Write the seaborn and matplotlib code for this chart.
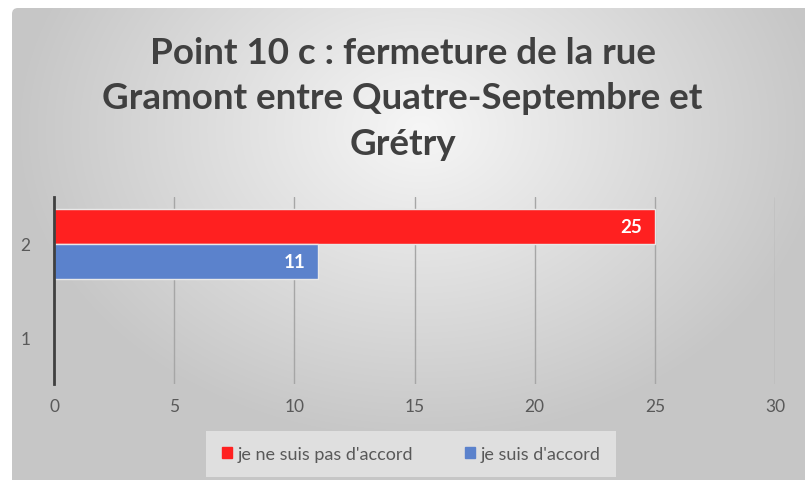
import numpy as np
import pandas as pd
import seaborn as sns
import matplotlib.pyplot as plt
from matplotlib.patches import FancyBboxPatch

categories = ['2', '1']
series = ["je ne suis pas d'accord", "je suis d'accord"]
pas_accord = [25, 0]
accord = [11, 0]
colors = ['#ff2020', '#5b82cc']
xticks = [0, 5, 10, 15, 20, 25, 30]

df = pd.DataFrame({
    'cat': categories * 2,
    'serie': [series[0]] * 2 + [series[1]] * 2,
    'val': pas_accord + accord,
})

sns.set_theme(style='white')
plt.rcParams['font.family'] = ['Lato', 'DejaVu Sans']

fig = plt.figure(figsize=(8.05, 4.81), dpi=100)

# background with radial gradient
bg = fig.add_axes([0, 0, 1, 1], zorder=-10)
bg.set_axis_off()
yy, xx = np.mgrid[0:481, 0:805]
r = np.sqrt(((xx - 420) / 520) ** 2 + ((yy - 130) / 400) ** 2)
shade = np.clip(0.965 - 0.24 * r, 0.78, 0.965)
img = np.dstack([shade, shade, shade])
bg.set_xlim(0, 805)
bg.set_ylim(481, 0)
bg.add_patch(plt.Rectangle((0, 0), 805, 481, color='white', zorder=0))
box = FancyBboxPatch((12, 9), 805, 481, boxstyle='round,pad=0,rounding_size=6',
                     facecolor='none', edgecolor='none')
bg.add_patch(box)
im = bg.imshow(img, extent=(0, 805, 481, 0), zorder=1)
im.set_clip_path(box)

ax = fig.add_axes([54 / 805, 1 - 385 / 481, (775 - 54) / 805, (385 - 198) / 481])
ax.patch.set_alpha(0)
sns.barplot(data=df, x='val', y='cat', hue='serie', order=categories,
            hue_order=series, palette=colors, orient='h', width=0.75,
            saturation=1, ax=ax, legend=False, zorder=3,
            linewidth=1, edgecolor='#e8e8e8')

for c in ax.containers:
    for bar, v in zip(c, c.datavalues):
        if v > 0:
            ax.annotate(f'{int(v)}', (v, bar.get_y() + bar.get_height() / 2),
                        xytext=(-9, 0), textcoords='offset points', ha='right',
                        va='center', color='white', fontweight='bold', fontsize=13.5,
                        zorder=6)

ax.set_xlim(0, 30)
ax.set_xticks(xticks)
ax.set_xlabel('')
ax.set_ylabel('')
ax.grid(axis='x', color='#a6a6a6', linewidth=1, zorder=0)
for s in ['top', 'right', 'bottom']:
    ax.spines[s].set_visible(False)
ax.spines['left'].set_color('#404040')
ax.spines['left'].set_linewidth(2)
ax.spines['left'].set_zorder(5)
ax.tick_params(axis='both', length=0, labelsize=12.5, colors='#595959', pad=10)
ax.tick_params(axis='y', pad=17)

fig.text(0.5, 1 - 161 / 481, 'Point 10 c : fermeture de la rue\nGramont entre Quatre-Septembre et\nGrétry',
         ha='center', va='bottom', fontsize=26.5, fontweight='bold', color='#404040',
         linespacing=1.47)

handles = [plt.Rectangle((0, 0), 1, 1, color=c) for c in colors]
leg = fig.legend(handles, series, loc='center', bbox_to_anchor=(411 / 805, 1 - 455 / 481),
                 ncol=2, frameon=True, handlelength=0.55, handleheight=0.55,
                 handletextpad=0.3, columnspacing=2.9, borderpad=0.3,
                 prop={'family': ['Lato', 'DejaVu Sans'], 'size': 13})
leg.get_frame().set_facecolor('#e4e4e4')
leg.get_frame().set_edgecolor('none')
leg.get_frame().set_alpha(0.85)
leg.get_frame().set_boxstyle('square', pad=0.55)
for t in leg.get_texts():
    t.set_color('#595959')

fig.savefig('out.png', dpi=100)
